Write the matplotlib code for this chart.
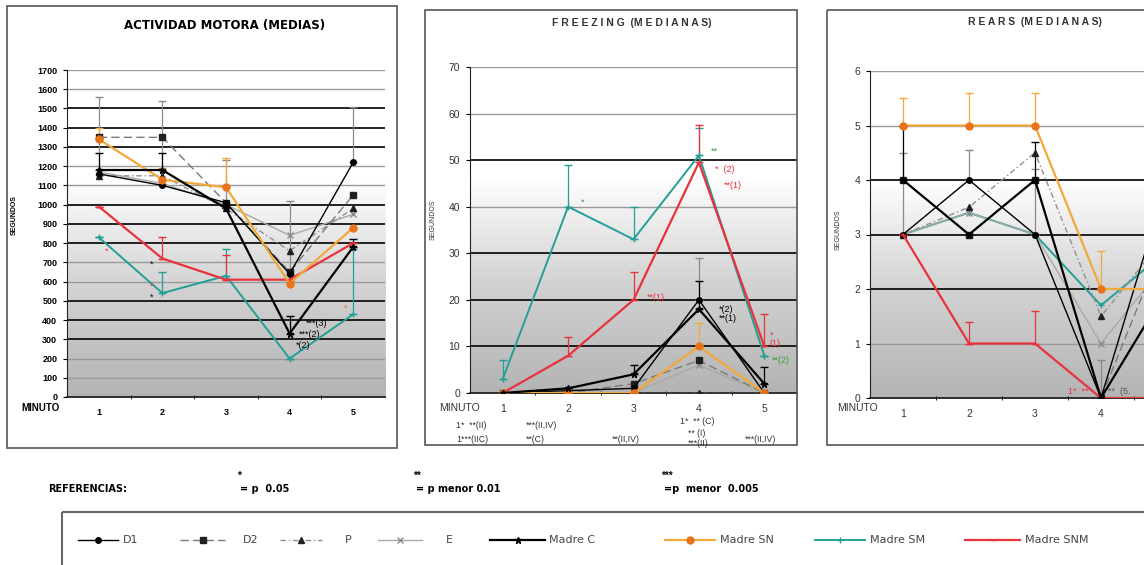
import numpy as np
import matplotlib
matplotlib.use('Agg')
import matplotlib.pyplot as plt
from matplotlib.colors import LinearSegmentedColormap
from matplotlib.patches import Rectangle
from matplotlib.lines import Line2D

plt.rcParams['font.family'] = ['Liberation Sans', 'DejaVu Sans']

W, H = 1144, 565
minutes = [1, 2, 3, 4, 5]
names = ['D1', 'D2', 'P', 'E', 'Madre C', 'Madre SN', 'Madre SM', 'Madre SNM']

# actividad motora (medias)
act_d1 = [1160, 1100, 1010, 640, 1220]
act_d2 = [1350, 1350, 1010, 650, 1050]
act_p = [1150, 1150, 980, 760, 980]
act_e = [1170, 1110, 1000, 840, 950]
act_mc = [1180, 1180, 980, 330, 780]
act_sn = [1340, 1130, 1090, 590, 880]
act_sm = [830, 540, 630, 200, 430]
act_snm = [990, 720, 610, 610, 800]
act_err_d1 = [400, 440, 220, 380, 290]
act_err_mc = [90, 90, 0, 90, 40]
act_err_sn = [60, 60, 150, 0, 0]
act_err_sm = [0, 110, 140, 0, 340]
act_err_snm = [0, 110, 130, 0, 0]

# freezing (medianas)
frz_d1 = [0, 0.5, 1, 20, 0]
frz_d2 = [0, 0, 2, 7, 0]
frz_p = [0, 0, 0, 0, 0]
frz_e = [0, 0, 0, 6, 0]
frz_mc = [0, 1, 4, 18, 2]
frz_sn = [0, 0, 0, 10, 0]
frz_sm = [3, 40, 33, 51, 8]
frz_snm = [0, 8, 20, 49.5, 10]
frz_err_d1 = [0, 0, 0, 9, 0]
frz_err_mc = [0, 0, 2, 6, 3.5]
frz_err_sn = [0, 0, 0, 5, 0]
frz_err_sm = [4, 9, 7, 6, 0]
frz_err_snm = [0, 4, 6, 8, 7]

# rears (medianas)
rr_d1 = [3, 4, 3, 0, 4]
rr_d2 = [4, 3, 4, 0, 3]
rr_p = [3, 3.5, 4.5, 1.5, 3]
rr_e = [3, 3.4, 3, 1, 2.5]
rr_mc = [4, 3, 4, 0, 2]
rr_sn = [5, 5, 5, 2, 2]
rr_sm = [3, 3.4, 3, 1.7, 2.7]
rr_snm = [3, 1, 1, 0, 0]
rr_err_d1 = [1.5, 0.55, 1.2, 0.7, 0]
rr_err_mc = [1, 0, 0.7, 0, 0]
rr_err_sn = [0.5, 0.6, 0.6, 0.7, 0]
rr_err_snm = [0, 0.4, 0.6, 0, 0]

RED = '#e8323c'
TEAL = '#22a095'
ORANGE = '#f2a93b'
ORANGE_D = '#e8731a'
GREEN = '#3a9a3a'

styles = {
    'D1': dict(color='black', ls='-', marker='o', mfc='black', mec='black', ms=4, lw=1.0),
    'D2': dict(color='#7a7a7a', ls=(0, (6, 3)), marker='s', mfc='#202020', mec='#202020', ms=5, lw=1.0),
    'P': dict(color='#909090', ls=(0, (4, 2, 1, 2)), marker='^', mfc='#202020', mec='#202020', ms=5, lw=1.0),
    'E': dict(color='#a8a8a8', ls='-', marker='x', mec='#8a8a8a', ms=5, lw=1.0),
    'Madre C': dict(color='black', ls='-', marker='*', mfc='black', mec='black', ms=5, lw=1.6),
    'Madre SN': dict(color=ORANGE, ls='-', marker='o', mfc=ORANGE_D, mec=ORANGE_D, ms=5, lw=1.6),
    'Madre SM': dict(color=TEAL, ls='-', marker='+', mec=TEAL, ms=5, lw=1.4),
    'Madre SNM': dict(color=RED, ls='-', marker='_', mec=RED, ms=5, lw=1.6),
}
order_main = ['E', 'P', 'D2', 'D1', 'Madre SM', 'Madre SNM', 'Madre SN', 'Madre C']
order_rears = ['Madre SM', 'E', 'P', 'D2', 'D1', 'Madre SNM', 'Madre SN', 'Madre C']


def px(x0, y0, x1, y1):
    return [x0 / W, 1 - y1 / H, (x1 - x0) / W, (y1 - y0) / H]


fig = plt.figure(figsize=(W / 100, H / 100), dpi=100)
fig.patch.set_facecolor('white')

gray_bg = LinearSegmentedColormap.from_list('bg', ['#b4b4b4', '#d2d2d2', '#ffffff', '#ffffff'])


def panel(ax, data, errs, ymax, ystep, dark, bold, notes, order, nlabels=5):
    ax.set_xlim(0.5, 5.5)
    ax.set_ylim(0, ymax)
    grad = np.linspace(0, 1, 256).reshape(-1, 1)
    ax.imshow(grad, cmap=gray_bg, extent=[0.5, 5.5, 0, ymax], aspect='auto', origin='lower', zorder=0)
    for v in np.arange(ystep, ymax + ystep / 2, ystep):
        if v in dark:
            ax.axhline(v, color='#111111', lw=1.3, zorder=1)
        else:
            ax.axhline(v, color='#9a9a9a', lw=1.0, zorder=1)
    for n in order:
        if n in errs:
            ax.errorbar(minutes, data[n], yerr=[np.zeros(5), errs[n]], fmt='none',
                        ecolor=styles[n]['color'] if n != 'D1' else '#8a8a8a',
                        elinewidth=0.9, capsize=3, zorder=3)
        ax.plot(minutes, data[n], zorder=4, **styles[n])
    for x, y, t, c in notes:
        ax.text(x, y, t, color=c, fontsize=6.5, zorder=6, va='center', linespacing=1.0)
    for s in ['top', 'right']:
        ax.spines[s].set_visible(False)
    ax.spines['left'].set_color('#222222')
    ax.spines['bottom'].set_color('#222222')
    ax.spines['bottom'].set_linewidth(1.3)
    ax.set_yticks(np.arange(0, ymax + ystep / 2, ystep))
    ax.set_xticks(minutes[:nlabels])
    ax.set_xticks([1.5, 2.5, 3.5, 4.5], minor=True)
    ax.tick_params(axis='x', which='major', length=0, pad=8)
    ax.tick_params(axis='x', which='minor', length=3, direction='inout')
    ax.tick_params(axis='y', length=3, direction='out', pad=4)
    if bold:
        for lab in ax.get_yticklabels() + ax.get_xticklabels():
            lab.set_fontweight('heavy')
            lab.set_fontsize(6.5)
    else:
        for lab in ax.get_yticklabels() + ax.get_xticklabels():
            lab.set_fontsize(7.5)
            lab.set_color('#333333')


act = dict(zip(names, [act_d1, act_d2, act_p, act_e, act_mc, act_sn, act_sm, act_snm]))
act_errs = {'D1': act_err_d1, 'Madre C': act_err_mc, 'Madre SN': act_err_sn,
            'Madre SM': act_err_sm, 'Madre SNM': act_err_snm}
act_notes = [(1.1, 760, '*', RED), (1.8, 690, '*', 'black'), (1.8, 575, '*', RED),
             (1.8, 520, '*', 'black'), (4.25, 380, '***(3)', 'black'),
             (4.15, 325, '***(2)', 'black'), (4.1, 270, '*(2)', 'black'), (4.85, 460, '*', ORANGE_D)]

frz = dict(zip(names, [frz_d1, frz_d2, frz_p, frz_e, frz_mc, frz_sn, frz_sm, frz_snm]))
frz_errs = {'D1': frz_err_d1, 'Madre C': frz_err_mc, 'Madre SN': frz_err_sn,
            'Madre SM': frz_err_sm, 'Madre SNM': frz_err_snm}
frz_notes = [(2.2, 41, '*', GREEN), (4.18, 52, '**', GREEN), (4.25, 48, '*  (2)', RED),
             (4.38, 44.5, '**(1)', RED), (3.2, 20.5, '**(1)', RED), (4.3, 17, '*(2)\n**(1)', 'black'),
             (5.08, 11.5, '*\n(1)', RED), (5.12, 7, '**(2)', GREEN)]

rr = dict(zip(names, [rr_d1, rr_d2, rr_p, rr_e, rr_mc, rr_sn, rr_sm, rr_snm]))
rr_errs = {'D1': rr_err_d1, 'Madre C': rr_err_mc, 'Madre SN': rr_err_sn, 'Madre SNM': rr_err_snm}
rr_notes = [(3.5, 0.12, '1*  **', RED), (4.1, 0.12, '**  (5.', '#555555')]

ax1 = fig.add_axes(px(67, 70, 385, 397))
panel(ax1, act, act_errs, 1700, 100, [300, 400, 500, 800, 900, 1000, 1300, 1400, 1500], True,
      act_notes, order_main)
ax2 = fig.add_axes(px(470, 67, 797, 393))
panel(ax2, frz, frz_errs, 70, 10, [10, 20, 30, 50], False, frz_notes, order_main)
ax3 = fig.add_axes(px(870, 71, 1200, 398))
panel(ax3, rr, rr_errs, 6, 1, [2, 3, 4], False, rr_notes, order_rears, nlabels=4)

# overlay in pixel coordinates for frames, labels and legend
ov = fig.add_axes([0, 0, 1, 1], zorder=10)
ov.set_xlim(0, W)
ov.set_ylim(H, 0)
ov.axis('off')
ov.patch.set_alpha(0)

ov.add_patch(Rectangle((7, 6), 390, 442, fill=False, ec='#555555', lw=1.2))
ov.add_patch(Rectangle((425, 10), 372, 435, fill=False, ec='#555555', lw=1.2))
ov.add_patch(Rectangle((827, 10), 340, 435, fill=False, ec='#555555', lw=1.2))

ov.text(225, 26, 'ACTIVIDAD MOTORA (MEDIAS)', ha='center', va='center', fontsize=8.5,
        fontweight='heavy', family='DejaVu Sans')
ov.text(632, 23, 'F R E E Z I N G  (M E D I A N A S)', ha='center', va='center', fontsize=7.5,
        color='#333333', fontweight='bold')
ov.text(1035, 22, 'R E A R S  (M E D I A N A S)', ha='center', va='center', fontsize=7.5,
        color='#333333', fontweight='bold')

ov.text(14, 215, 'SEGUNDOS', rotation=90, ha='center', va='center', fontsize=5, fontweight='heavy')
ov.text(433, 220, 'SEGUNDOS', rotation=90, ha='center', va='center', fontsize=5, color='#333333')
ov.text(838, 230, 'SEGUNDOS', rotation=90, ha='center', va='center', fontsize=5, color='#333333')

ov.text(40, 408, 'MINUTO', ha='center', va='center', fontsize=7, fontweight='heavy')
ov.text(460, 408, 'MINUTO', ha='center', va='center', fontsize=7.5, color='#333333')
ov.text(857, 408, 'MINUTO', ha='center', va='center', fontsize=7.5, color='#333333')

below = [(456, 425, "1*  **(II)"), (456, 439, "1***(IIC)"), (526, 425, "***(II,IV)"),
         (526, 439, "**(C)"), (612, 439, "**(II,IV)"), (680, 422, "1*  ** (C)"),
         (688, 433, "** (I)"), (688, 444, "***(II)"), (745, 439, "***(II,IV)")]
for x, y, t in below:
    ov.text(x, y, t, ha='left', va='center', fontsize=6.3, color='#333333')

ov.text(48, 489, 'REFERENCIAS:', ha='left', va='center', fontsize=7, fontweight='heavy',
        family='DejaVu Sans')
refs = [(238, '*', '= p  0.05'), (414, '**', '= p menor 0.01'), (662, '***', '=p  menor  0.005')]
for x, star, t in refs:
    ov.text(x, 476, star, ha='left', va='center', fontsize=7, fontweight='heavy')
    ov.text(x + 2, 489, t, ha='left', va='center', fontsize=7, fontweight='heavy',
            family='DejaVu Sans')

ov.add_patch(Rectangle((62, 512), 1120, 60, fill=False, ec='#666666', lw=1.5))
leg_pos = [(78, 118, 123), (180, 225, 243), (280, 322, 345), (378, 422, 446),
           (490, 545, 549), (665, 715, 720), (815, 865, 870), (965, 1020, 1025)]
leg_labels = ['D1', 'D2', 'P', 'E', 'Madre C', 'Madre SN', 'Madre SM', 'Madre SNM']
for n, (a, b, t), lab in zip(names, leg_pos, leg_labels):
    st = dict(styles[n])
    ov.add_line(Line2D([a, b], [540, 540], color=st['color'], ls=st['ls'], lw=st['lw']))
    ov.add_line(Line2D([(a + b) / 2], [540], marker=st['marker'], ms=st['ms'],
                       mfc=st.get('mfc', st['color']), mec=st.get('mec', st['color']), ls='none'))
    ov.text(t, 540, lab, ha='left', va='center', fontsize=8, color='#444444', family='DejaVu Sans')

fig.savefig('out.png', dpi=100)
